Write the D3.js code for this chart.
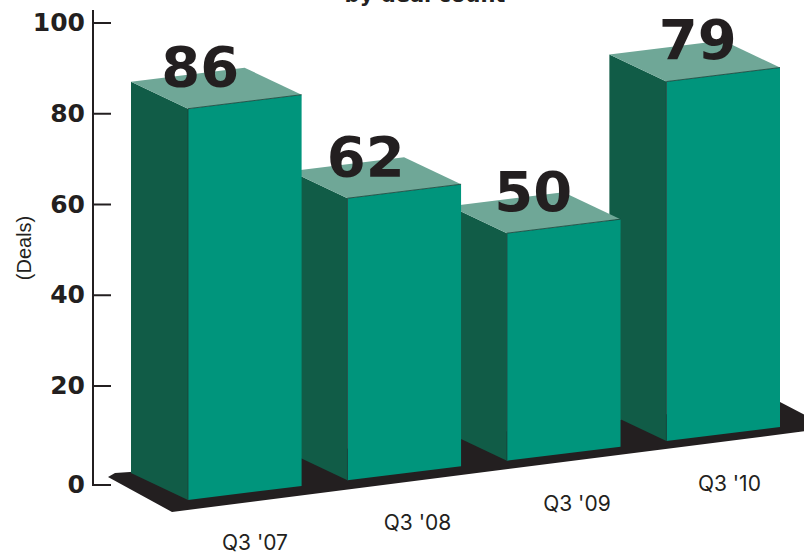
<!DOCTYPE html>
<html>
<head>
<meta charset="utf-8">
<script src="https://cdn.jsdelivr.net/npm/d3@7"></script>
<style>
  html, body { margin: 0; padding: 0; background: #fff; }
  svg { display: block; }
  text { fill: #231f20; }
</style>
</head>
<body>
<svg id="chart" width="804" height="556"></svg>
<script>
// Quarterly deal counts
const quarters = ["Q3 '07", "Q3 '08", "Q3 '09", "Q3 '10"];
const deals = [86, 62, 50, 79];
const tickValues = [0, 20, 40, 60, 80, 100];

const ink = "#231f20";
const frontColor = "#00957c";
const sideColor = "#115c47";
const topColor = "#6fa797";
const edgeColor = "#1c3f36";

const svg = d3.select("#chart");

// Printed axis: the zero tick sits a little below the regular spacing
const axisY = d3.scaleLinear().domain([0, 20, 100]).range([485, 386, 23]);
// Bar rise per deal
const rise = d3.scaleLinear().domain([0, 100]).range([0, 455]);
// Position along the front of the floor
const band = d3.scaleBand().domain(quarters).range([188, 780]).paddingInner(0.2876).paddingOuter(0);
// The floor climbs to the right
const floorY = d3.scaleLinear().domain([188, 780]).range([500, 427]);

// Oblique projection: depth runs up and to the left
const depth = { x: -57, y: -27 };
const poly = pts => pts.map(p => p.join(",")).join(" ");

// Floor slab under the bars
svg.append("polygon")
  .attr("fill", ink)
  .attr("points", poly([
    [108, 477], [115, 473], [130, 472],
    [band.range()[1], floorY(band.range()[1]) - 25],
    [830, 428],
    [172, floorY(172) + 10]
  ]));

// Each bar as three faces; nearer bars are painted last
const layout = quarters.map((q, i) => {
  const x0 = band(q), x1 = x0 + band.bandwidth();
  const h = rise(deals[i]);
  return { q, value: deals[i], i, x0, x1, y0: floorY(x0), y1: floorY(x1), h };
});

const bars = svg.selectAll("g.bar")
  .data(layout.slice().reverse())
  .join("g")
  .attr("class", "bar");

bars.append("polygon")
  .attr("fill", sideColor)
  .attr("points", d => poly([
    [d.x0, d.y0], [d.x0, d.y0 - d.h],
    [d.x0 + depth.x, d.y0 - d.h + depth.y], [d.x0 + depth.x, d.y0 + depth.y]
  ]));

bars.append("polygon")
  .attr("fill", topColor)
  .attr("points", d => poly([
    [d.x0, d.y0 - d.h], [d.x1, d.y1 - d.h],
    [d.x1 + depth.x, d.y1 - d.h + depth.y], [d.x0 + depth.x, d.y0 - d.h + depth.y]
  ]));

bars.append("polygon")
  .attr("fill", frontColor)
  .attr("points", d => poly([
    [d.x0, d.y0], [d.x1, d.y1], [d.x1, d.y1 - d.h], [d.x0, d.y0 - d.h]
  ]));

// Hairlines along the top and left of each front face
bars.append("polyline")
  .attr("fill", "none")
  .attr("stroke", edgeColor)
  .attr("stroke-width", 0.8)
  .attr("points", d => poly([[d.x0, d.y0], [d.x0, d.y0 - d.h], [d.x1, d.y1 - d.h]]));

// Vertical axis
const axis = svg.append("g").attr("stroke", ink).attr("fill", "none");
axis.append("line")
  .attr("x1", 93).attr("x2", 93).attr("y1", 10).attr("y2", axisY(0))
  .attr("stroke-width", 2);
axis.selectAll("line.tick")
  .data(tickValues)
  .join("line")
  .attr("class", "tick")
  .attr("x1", 92).attr("x2", 111)
  .attr("y1", d => axisY(d)).attr("y2", d => axisY(d))
  .attr("stroke-width", 2);

svg.selectAll("text.ticklabel")
  .data(tickValues)
  .join("text")
  .attr("class", "ticklabel")
  .attr("x", 85)
  .attr("y", d => axisY(d) + 8)
  .attr("text-anchor", "end")
  .attr("font-family", "DejaVu Sans")
  .attr("font-weight", 700)
  .attr("font-size", 25)
  .text(d => d);

// Deal counts sitting on the bar tops
const labelShift = [-16, -10, -2, 3];
svg.selectAll("text.value")
  .data(layout)
  .join("text")
  .attr("class", "value")
  .attr("x", d => (d.x0 + d.x1 + depth.x) / 2 + labelShift[d.i])
  .attr("y", d => (d.y0 + d.y1 + depth.y) / 2 - d.h - 2)
  .attr("text-anchor", "middle")
  .attr("font-family", "DejaVu Sans")
  .attr("font-weight", 700)
  .attr("font-size", 56)
  .text(d => d.value);

// Quarter labels follow the slope of the floor
const quarterShift = [67, 70, 70, 63];
svg.selectAll("text.quarter")
  .data(layout)
  .join("text")
  .attr("class", "quarter")
  .attr("x", d => d.x0 + quarterShift[d.i])
  .attr("y", d => d.y0 + 50)
  .attr("text-anchor", "middle")
  .attr("font-family", "Inter")
  .attr("font-size", 21)
  .text(d => d.q);

// Axis unit
svg.append("text")
  .attr("transform", "translate(31,248) rotate(-90)")
  .attr("text-anchor", "middle")
  .attr("font-family", "Liberation Sans Narrow, Liberation Sans")
  .attr("font-size", 20)
  .text("(Deals)");

// Subtitle, cut by the top edge of the frame
svg.append("text")
  .attr("x", 425)
  .attr("y", 2)
  .attr("text-anchor", "middle")
  .attr("font-family", "DejaVu Sans")
  .attr("font-weight", 700)
  .attr("font-size", 21)
  .text("by deal count");
</script>
</body>
</html>
